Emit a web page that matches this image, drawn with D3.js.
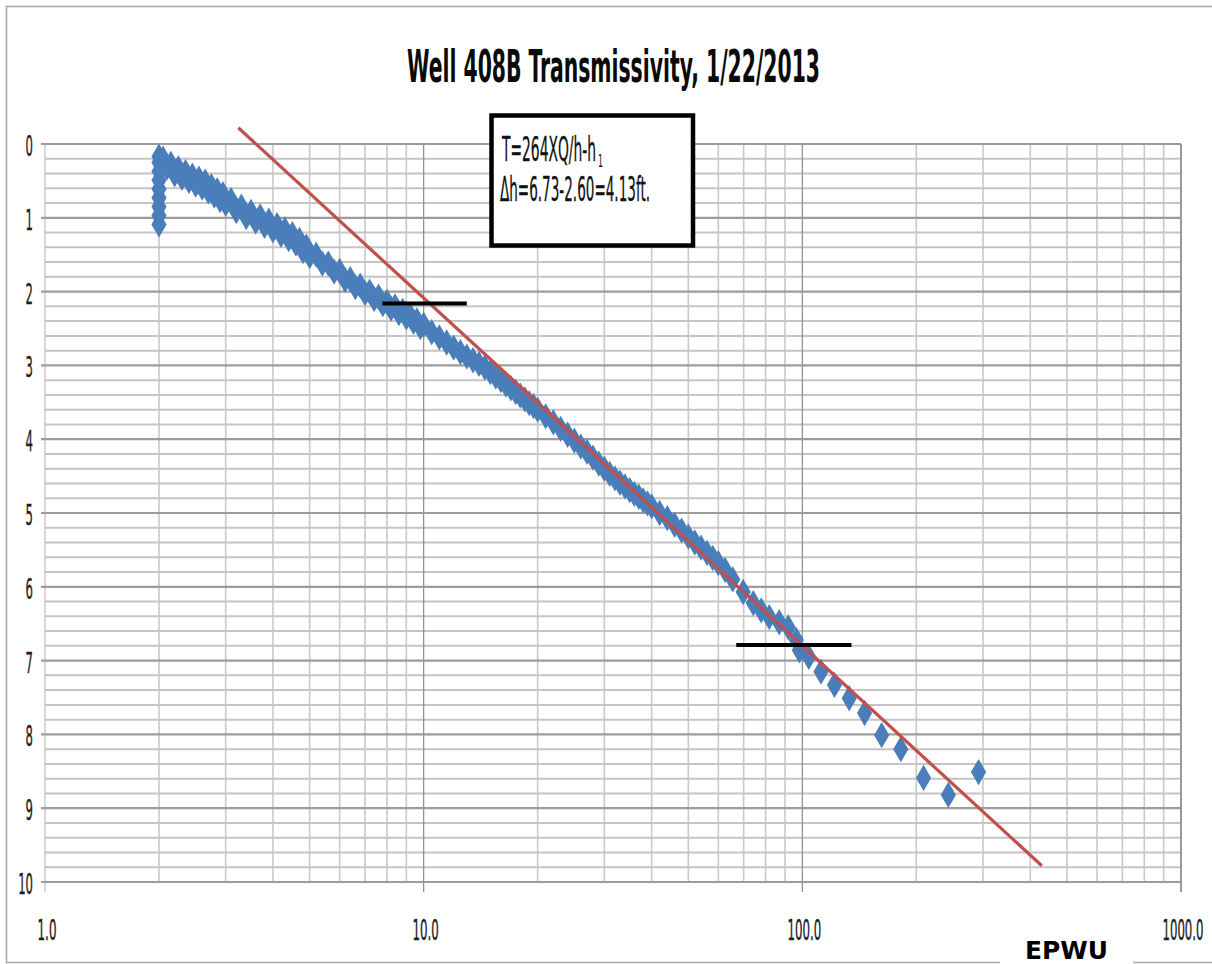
<!DOCTYPE html>
<html>
<head>
<meta charset="utf-8">
<script src="https://cdn.jsdelivr.net/npm/d3@7"></script>
<style>
  html, body { margin: 0; padding: 0; background: #fff; }
  svg { display: block; }
</style>
</head>
<body>
<svg id="chart"></svg>
<script>
// values (time in minutes, drawdown in ft)
const titleText = 'Well 408B Transmissivity, 1/22/2013';

const pumpTime = [
    2.0, 2.0, 2.0, 2.0, 2.0, 2.0, 2.0, 2.0, 2.0,
    2.05, 2.1, 2.15, 2.2, 2.25, 2.3, 2.35, 2.4, 2.45, 2.5,
    2.55, 2.6, 2.65, 2.7, 2.75, 2.8, 2.85, 2.9, 2.95, 3.0,
    3.1, 3.2, 3.3, 3.4, 3.5, 3.6, 3.7, 3.8, 3.9, 4.0,
    4.1, 4.2, 4.3, 4.4, 4.5, 4.6, 4.7, 4.8, 4.9, 5.0,
    5.2, 5.4, 5.6, 5.8, 6.0, 6.2, 6.4, 6.6, 6.8, 7.0,
    7.2, 7.4, 7.6, 7.8, 8.0, 8.2, 8.4, 8.6, 8.8, 9.0,
    9.2, 9.4, 9.6, 9.8, 10,
    10.5, 11, 11.5, 12, 12.5, 13, 13.5, 14, 14.5,
    15, 15.5, 16, 16.5, 17, 17.5, 18, 18.5, 19, 19.5,
    20, 21, 22, 23, 24, 25, 26, 27, 28, 29,
    30, 31, 32, 33, 34, 35, 36, 37, 38, 39,
    40, 42, 44, 46, 48, 50, 52, 54, 56, 58, 60,
    62.5, 65.5, 69.8, 74.2, 77.9, 81.8, 86.9, 91.8,
    96.4, 98.2, 104, 112, 121.6, 133, 146, 162, 182, 209, 243, 292
];
const pumpDrawdown = [
    0.17, 0.25, 0.37, 0.49, 0.61, 0.73, 0.85, 0.97, 1.09,
    0.20, 0.32, 0.27, 0.41, 0.33, 0.46, 0.38, 0.50, 0.43, 0.55,
    0.47, 0.59, 0.51, 0.64, 0.57, 0.70, 0.63, 0.76, 0.68, 0.81,
    0.76, 0.91, 0.85, 0.99, 0.92, 1.05, 0.98, 1.11, 1.04, 1.17,
    1.10, 1.23, 1.16, 1.29, 1.22, 1.35, 1.30, 1.45, 1.39, 1.52,
    1.50, 1.62, 1.62, 1.73, 1.72, 1.84, 1.83, 1.94, 1.92, 2.02,
    2.00, 2.10, 2.07, 2.17, 2.14, 2.23, 2.20, 2.29, 2.26, 2.35,
    2.32, 2.41, 2.39, 2.48, 2.45,
    2.55, 2.62, 2.69, 2.76, 2.82, 2.88, 2.93, 2.98, 3.03,
    3.09, 3.15, 3.20, 3.26, 3.31, 3.36, 3.41, 3.46, 3.51, 3.55,
    3.60, 3.69, 3.77, 3.86, 3.94, 4.02, 4.10, 4.17, 4.25, 4.33,
    4.40, 4.47, 4.53, 4.59, 4.64, 4.69, 4.74, 4.78, 4.83, 4.87,
    4.91, 5.00, 5.07, 5.16, 5.24, 5.32, 5.40, 5.47, 5.54, 5.61, 5.68,
    5.77, 5.90, 6.07, 6.22, 6.32, 6.41, 6.48, 6.55,
    6.72, 6.86, 6.95, 7.15, 7.33, 7.51, 7.71, 8.01, 8.20, 8.59, 8.82, 8.51
];

// straight-line fit drawn by hand on the chart
const fitTime = [3.24, 429];
const fitDrawdown = [-0.22, 9.78];

// the two short black marks used to read delta h
const markStart = [7.78, 66.9];
const markEnd = [13.0, 134.8];
const markDrawdown = [2.16, 6.79];

const xTickValues = [1, 10, 100, 1000];
const xTickLabels = ['1.0', '10.0', '100.0', '1000.0'];
const yTickValues = [0, 1, 2, 3, 4, 5, 6, 7, 8, 9, 10];

const noteLine1 = 'T=264XQ/h-h';
const noteSub = '1';
const noteLine2 = '\u0394h=6.73-2.60=4.13ft.';
const footerText = 'EPWU';

const W = 1212, H = 964;
const narrowFont = '"Liberation Sans Narrow", "DejaVu Sans Condensed", "Open Sans", sans-serif';

const svg = d3.select('#chart')
    .attr('width', W)
    .attr('height', H);

//outer chart frame
svg.append('rect')
    .attr('x', 6.5)
    .attr('y', 6.5)
    .attr('width', 1240)
    .attr('height', 956)
    .attr('fill', '#fff')
    .attr('stroke', '#a8a8a8')
    .attr('stroke-width', 1.5);

const x = d3.scaleLog().domain([1, 1000]).range([45, 1181]);
const y = d3.scaleLinear().domain([0, 10]).range([144, 882]);

//rough label width for the squeezed Calibri look
function labelWidth(str, digitW) {
    let w = 0;
    for (const ch of str) w += (ch === '.') ? digitW * 0.55 : digitW;
    return w;
}

// grid
const grid = svg.append('g').attr('class', 'grid');

const isDecade = v => Math.abs(Math.log10(v) - Math.round(Math.log10(v))) < 1e-9;

grid.selectAll('line.vminor')
    .data(x.ticks().filter(v => !isDecade(v)))
    .enter()
    .append('line')
    .attr('x1', d => x(d))
    .attr('x2', d => x(d))
    .attr('y1', y(0))
    .attr('y2', y(10))
    .attr('stroke', '#c8c8c8')
    .attr('stroke-width', 1.6);

const yMinor = y.ticks(50).filter(v => Math.abs(v - Math.round(v)) > 1e-9);
grid.selectAll('line.hminor')
    .data(yMinor)
    .enter()
    .append('line')
    .attr('x1', x(1))
    .attr('x2', x(1000))
    .attr('y1', d => y(d))
    .attr('y2', d => y(d))
    .attr('stroke', '#c4c4c4')
    .attr('stroke-width', 2);

grid.selectAll('line.vmajor')
    .data(xTickValues)
    .enter()
    .append('line')
    .attr('x1', d => x(d))
    .attr('x2', d => x(d))
    .attr('y1', y(0))
    .attr('y2', y(10) + 10)
    .attr('stroke', (d, i) => (i === 0) ? '#bdbdbd' : (i === 3 ? '#9a9a9a' : '#8a8a8a'))
    .attr('stroke-width', (d, i) => (i === 3) ? 2 : 1.2);

grid.selectAll('line.hmajor')
    .data(yTickValues)
    .enter()
    .append('line')
    .attr('x1', x(1) - 4)
    .attr('x2', x(1000))
    .attr('y1', d => y(d))
    .attr('y2', d => y(d))
    .attr('stroke', '#9c9c9c')
    .attr('stroke-width', 2.2);

// axis labels
svg.append('g')
    .selectAll('text')
    .data(yTickValues)
    .enter()
    .append('text')
    .attr('x', 33)
    .attr('y', d => y(d) + 12)
    .attr('text-anchor', 'end')
    .attr('font-family', narrowFont)
    .attr('font-size', 29)
    .attr('fill', '#1c1c1c')
    .attr('stroke', '#1c1c1c')
    .attr('stroke-width', 0.4)
    .attr('textLength', d => labelWidth(String(d), 7.4))
    .attr('lengthAdjust', 'spacingAndGlyphs')
    .text(d => d);

svg.append('g')
    .selectAll('text')
    .data(xTickValues)
    .enter()
    .append('text')
    .attr('x', d => x(d) + 2)
    .attr('y', 940)
    .attr('text-anchor', 'middle')
    .attr('font-family', narrowFont)
    .attr('font-size', 29)
    .attr('fill', '#1c1c1c')
    .attr('stroke', '#1c1c1c')
    .attr('stroke-width', 0.4)
    .attr('textLength', (d, i) => labelWidth(xTickLabels[i], 7.4))
    .attr('lengthAdjust', 'spacingAndGlyphs')
    .text((d, i) => xTickLabels[i]);

// data points
const diamond = d3.symbol().type(d3.symbolDiamond).size(200);
svg.append('g')
    .attr('class', 'points')
    .selectAll('path')
    .data(pumpTime.map((t, i) => [t, pumpDrawdown[i]]))
    .enter()
    .append('path')
    .attr('d', diamond)
    .attr('transform', d => 'translate(' + x(d[0]) + ',' + y(d[1]) + ')')
    .attr('fill', '#4a7ebb');

// fit line
svg.append('path')
    .datum(fitTime.map((t, i) => [t, fitDrawdown[i]]))
    .attr('d', d3.line().x(d => x(d[0])).y(d => y(d[1])))
    .attr('fill', 'none')
    .attr('stroke', '#c0504d')
    .attr('stroke-width', 3.2);

svg.append('g')
    .selectAll('line')
    .data(markDrawdown)
    .enter()
    .append('line')
    .attr('x1', (d, i) => x(markStart[i]))
    .attr('x2', (d, i) => x(markEnd[i]))
    .attr('y1', d => y(d))
    .attr('y2', d => y(d))
    .attr('stroke', '#000')
    .attr('stroke-width', 4);

// formula box
const note = svg.append('g').attr('class', 'note');
note.append('rect')
    .attr('x', 491.5)
    .attr('y', 115.5)
    .attr('width', 201.5)
    .attr('height', 130)
    .attr('fill', '#fff')
    .attr('stroke', '#000')
    .attr('stroke-width', 4.5);
note.append('text')
    .attr('x', 502)
    .attr('y', 161)
    .attr('font-family', narrowFont)
    .attr('font-size', 33)
    .attr('fill', '#111')
    .attr('stroke', '#111')
    .attr('stroke-width', 0.3)
    .attr('textLength', 94)
    .attr('lengthAdjust', 'spacingAndGlyphs')
    .text(noteLine1);
note.append('text')
    .attr('x', 598)
    .attr('y', 167)
    .attr('font-family', narrowFont)
    .attr('font-size', 18)
    .attr('fill', '#111')
    .attr('textLength', 5)
    .attr('lengthAdjust', 'spacingAndGlyphs')
    .text(noteSub);
note.append('text')
    .attr('x', 500)
    .attr('y', 201)
    .attr('font-family', narrowFont)
    .attr('font-size', 33)
    .attr('fill', '#111')
    .attr('stroke', '#111')
    .attr('stroke-width', 0.3)
    .attr('textLength', 150)
    .attr('lengthAdjust', 'spacingAndGlyphs')
    .text(noteLine2);

// title
svg.append('text')
    .attr('x', 407)
    .attr('y', 82)
    .attr('font-family', narrowFont)
    .attr('font-size', 45)
    .attr('font-weight', 'bold')
    .attr('fill', '#0a0a0a')
    .attr('textLength', 413)
    .attr('lengthAdjust', 'spacingAndGlyphs')
    .text(titleText);

// footer logo text sits over the frame edge
svg.append('rect')
    .attr('x', 1000)
    .attr('y', 932)
    .attr('width', 133)
    .attr('height', 32)
    .attr('fill', '#fff');
svg.append('text')
    .attr('x', 1025)
    .attr('y', 959)
    .attr('font-family', '"DejaVu Sans", sans-serif')
    .attr('font-size', 24)
    .attr('font-weight', 'bold')
    .attr('fill', '#000')
    .attr('textLength', 83)
    .attr('lengthAdjust', 'spacingAndGlyphs')
    .text(footerText);
</script>
</body>
</html>
